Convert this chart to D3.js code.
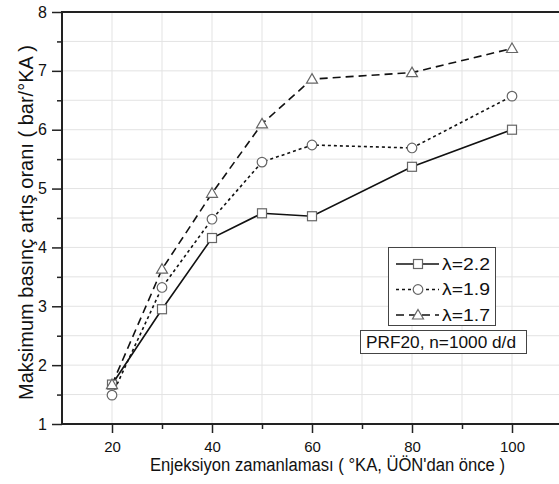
<!DOCTYPE html>
<html>
<head>
<meta charset="utf-8">
<script src="https://cdn.jsdelivr.net/npm/d3@7"></script>
<style>
  body { margin: 0; background: #fff; }
  svg { font-family: "Liberation Sans", Arial, sans-serif; }
</style>
</head>
<body>
<div id="chart"></div>
<script>
var xValues = [20, 30, 40, 50, 60, 80, 100];
var lambda22 = [1.67, 2.95, 4.16, 4.58, 4.53, 5.37, 6.0];
var lambda19 = [1.49, 3.32, 4.48, 5.45, 5.74, 5.69, 6.57];
var lambda17 = [1.67, 3.63, 4.92, 6.1, 6.86, 6.97, 7.38];
var seriesNames = ["\u03bb=2.2", "\u03bb=1.9", "\u03bb=1.7"];
var xTicks = [20, 40, 60, 80, 100];
var yTicks = [1, 2, 3, 4, 5, 6, 7, 8];

var width = 559, height = 484;
var margin = { top: 12, left: 62, bottom: 60 };

var svg = d3.select("#chart")
  .append("svg")
    .attr("width", width)
    .attr("height", height);

var x = d3.scaleLinear()
    .domain([10, 110])
    .range([margin.left, margin.left + 500]);

var y = d3.scaleLinear()
    .domain([1, 8])
    .range([height - margin.bottom, margin.top]);

// grid
svg.append("g")
  .selectAll("line")
  .data(d3.range(1.5, 8, 0.5))
  .enter().append("line")
    .attr("x1", x(10)).attr("x2", width)
    .attr("y1", function(d) { return y(d); })
    .attr("y2", function(d) { return y(d); })
    .attr("stroke", "#e3e3e3").attr("stroke-width", 1);

svg.append("g")
  .selectAll("line")
  .data(d3.range(20, 110, 10))
  .enter().append("line")
    .attr("y1", y(1)).attr("y2", y(8))
    .attr("x1", function(d) { return x(d); })
    .attr("x2", function(d) { return x(d); })
    .attr("stroke", "#e3e3e3").attr("stroke-width", 1);

// axes
var xMinor = svg.append("g")
  .attr("transform", "translate(0," + y(1) + ")")
  .call(d3.axisBottom(x).tickValues([30, 50, 70, 90]).tickSize(5).tickFormat(""));
var xAxis = svg.append("g")
  .attr("transform", "translate(0," + y(1) + ")")
  .call(d3.axisBottom(x).tickValues(xTicks).tickSize(9).tickPadding(8));
var yMinor = svg.append("g")
  .attr("transform", "translate(" + x(10) + ",0)")
  .call(d3.axisLeft(y).tickValues(d3.range(1.5, 8, 1)).tickSize(5).tickFormat(""));
var yAxis = svg.append("g")
  .attr("transform", "translate(" + x(10) + ",0)")
  .call(d3.axisLeft(y).tickValues(yTicks).tickSize(10).tickPadding(5).tickFormat(d3.format("d")));

[xMinor, xAxis, yMinor, yAxis].forEach(function(a) {
  a.select(".domain").remove();
  a.selectAll(".tick line").attr("stroke", "#222").attr("stroke-width", 1.5);
  a.selectAll(".tick text").attr("fill", "#111");
});
xAxis.selectAll(".tick text").style("font-size", "15px");
yAxis.selectAll(".tick text").style("font-size", "16px");

svg.append("line")
  .attr("x1", x(10)).attr("x2", x(10))
  .attr("y1", y(8) - 1).attr("y2", y(1) + 1)
  .attr("stroke", "#222").attr("stroke-width", 2);
svg.append("line")
  .attr("x1", x(10) - 1).attr("x2", width)
  .attr("y1", y(1)).attr("y2", y(1))
  .attr("stroke", "#222").attr("stroke-width", 2);
svg.append("line")
  .attr("x1", x(10) - 1).attr("x2", width)
  .attr("y1", y(8)).attr("y2", y(8))
  .attr("stroke", "#222").attr("stroke-width", 2);

// series
var series = [
  { name: seriesNames[0], values: lambda22, dash: null, marker: "square" },
  { name: seriesNames[1], values: lambda19, dash: "3,3", marker: "circle" },
  { name: seriesNames[2], values: lambda17, dash: "8,5", marker: "triangle" }
];

var line = d3.line()
  .x(function(d) { return x(d[0]); })
  .y(function(d) { return y(d[1]); });

function drawMarker(g, type, cx, cy) {
  if (type === "square") {
    g.append("rect")
      .attr("x", cx - 4.5).attr("y", cy - 4.5)
      .attr("width", 9).attr("height", 9);
  } else if (type === "circle") {
    g.append("circle").attr("cx", cx).attr("cy", cy).attr("r", 4.8);
  } else {
    g.append("path")
      .attr("d", "M" + cx + "," + (cy - 5.5) + "L" + (cx + 5.5) + "," + (cy + 4) + "L" + (cx - 5.5) + "," + (cy + 4) + "Z");
  }
}

series.forEach(function(s) {
  var pts = xValues.map(function(v, i) { return [v, s.values[i]]; });
  svg.append("path")
    .datum(pts)
    .attr("d", line)
    .attr("fill", "none")
    .attr("stroke", "#111")
    .attr("stroke-width", 1.6)
    .attr("stroke-dasharray", s.dash);
});

series.forEach(function(s) {
  var g = svg.append("g")
    .attr("fill", "#fff").attr("stroke", "#666").attr("stroke-width", 1.2);
  xValues.forEach(function(v, i) {
    drawMarker(g, s.marker, x(v), y(s.values[i]));
  });
});

// legend
var legend = svg.append("g");
legend.append("rect")
  .attr("x", 388.5).attr("y", 247.5).attr("width", 107).attr("height", 78)
  .attr("fill", "#fff").attr("stroke", "#444").attr("stroke-width", 1);

series.forEach(function(s, i) {
  var ly = 264 + i * 25.5;
  legend.append("line")
    .attr("x1", 396).attr("x2", 439).attr("y1", ly).attr("y2", ly)
    .attr("stroke", "#111").attr("stroke-width", 1.6)
    .attr("stroke-dasharray", s.dash);
  var mg = legend.append("g")
    .attr("fill", "#fff").attr("stroke", "#666").attr("stroke-width", 1.2);
  drawMarker(mg, s.marker, 418, ly);
  legend.append("text")
    .attr("x", 442).attr("y", ly + 5.5)
    .attr("textLength", 48).attr("lengthAdjust", "spacingAndGlyphs")
    .style("font-size", "16px").attr("fill", "#111")
    .text(s.name);
});

svg.append("rect")
  .attr("x", 360.5).attr("y", 330.5).attr("width", 166).attr("height", 23)
  .attr("fill", "#fff").attr("stroke", "#444").attr("stroke-width", 1);
svg.append("text")
  .attr("x", 366).attr("y", 348)
  .attr("textLength", 150).attr("lengthAdjust", "spacingAndGlyphs")
  .style("font-size", "17px").attr("fill", "#111")
  .text("PRF20, n=1000 d/d");

// axis titles
svg.append("text")
  .attr("x", 150).attr("y", 471)
  .attr("textLength", 355).attr("lengthAdjust", "spacingAndGlyphs")
  .style("font-size", "18px").attr("fill", "#111")
  .text("Enjeksiyon zamanlaması ( °KA, ÜÖN'dan önce )");

svg.append("text")
  .attr("transform", "translate(33,400) rotate(-90)")
  .attr("textLength", 355).attr("lengthAdjust", "spacingAndGlyphs")
  .style("font-size", "21px").attr("fill", "#111")
  .text("Maksimum basınç artış oranı  ( bar/°KA )");
</script>
</body>
</html>
